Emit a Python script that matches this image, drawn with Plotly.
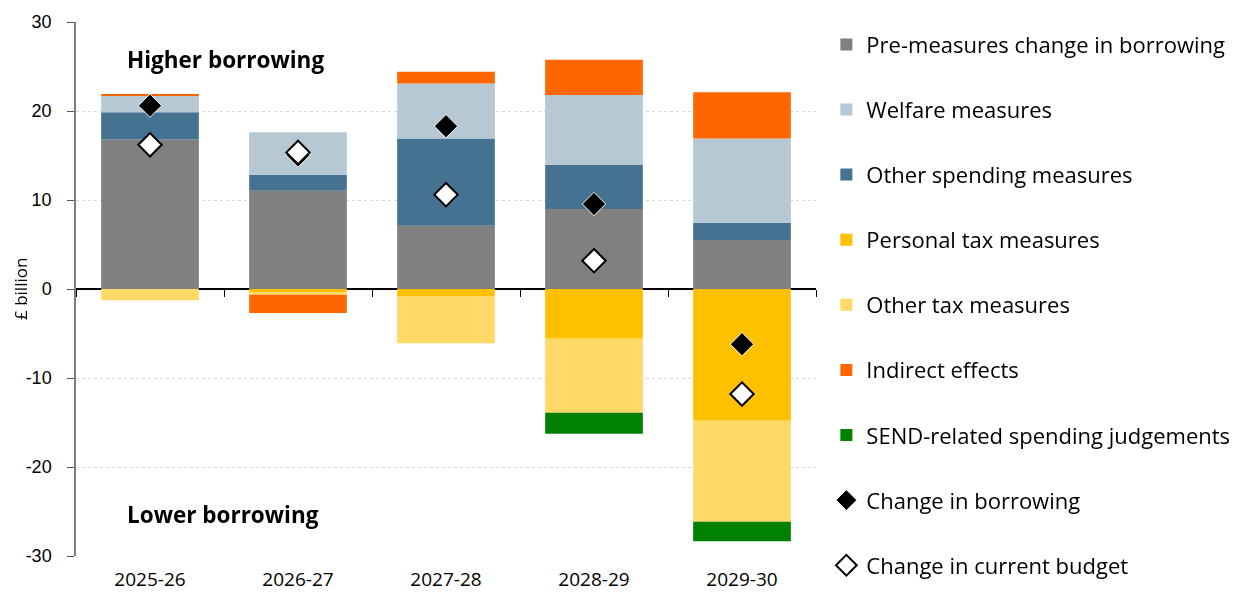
import plotly.graph_objects as go

years = ["2025-26", "2026-27", "2027-28", "2028-29", "2029-30"]

pre_measures = [16.8, 11.05, 7.1, 9.0, 5.5]
other_spending = [3.05, 1.8, 9.8, 4.97, 1.95]
welfare = [1.9, 4.75, 6.2, 7.83, 9.45]
personal_tax = [0.0, -0.4, -0.85, -5.58, -14.8]
other_tax = [-1.25, -0.25, -5.25, -8.32, -11.35]
indirect = [0.1, -2.05, 1.3, 3.95, 5.2]
send = [0.0, 0.0, 0.0, -2.36, -2.2]
change_borrowing = [20.6, 15.0, 18.3, 9.55, -6.2]
change_current_budget = [16.2, 15.35, 10.6, 3.18, -11.8]

y_ticks = [-30, -20, -10, 0, 10, 20, 30]
y_tick_text = ["-30", "-20", "-10", "0", "10", "20", "30"]

# (name, values, colour, legend rank) in stacking order
bar_series = [
    ("Pre-measures change in borrowing", pre_measures, "#808080", 1),
    ("Other spending measures", other_spending, "#467291", 3),
    ("Welfare measures", welfare, "#B6C8D4", 2),
    ("Personal tax measures", personal_tax, "#FFC000", 4),
    ("Other tax measures", other_tax, "#FFD966", 5),
    ("Indirect effects", indirect, "#FF6600", 6),
    ("SEND-related spending judgements", send, "#008000", 7),
]

fig = go.Figure()
for name, vals, col, rank in bar_series:
    fig.add_trace(go.Bar(
        x=years, y=vals, name=name, marker=dict(color=col, line=dict(width=0)),
        width=0.66, legendrank=rank, legendgroup=name,
    ))

fig.add_trace(go.Scatter(
    x=years, y=change_borrowing, mode="markers", name="Change in borrowing",
    marker=dict(symbol="diamond", size=18, color="black", line=dict(color="white", width=1)),
    legendrank=8, legendgroup="cb",
))
fig.add_trace(go.Scatter(
    x=years, y=change_current_budget, mode="markers", name="Change in current budget",
    marker=dict(symbol="diamond", size=18, color="white", line=dict(color="black", width=2)),
    legendrank=9, legendgroup="ccb",
))
# invisible trace to activate the zero-line tick axis
fig.add_trace(go.Scatter(
    x=years, y=change_borrowing, xaxis="x2", mode="markers", opacity=0,
    showlegend=False, hoverinfo="skip",
))

font_main = "Open Sans"

fig.update_layout(
    width=1242, height=584,
    barmode="relative",
    plot_bgcolor="white", paper_bgcolor="white",
    margin=dict(l=68, r=434, t=14, b=36, autoexpand=False),
    font=dict(family=font_main, size=18, color="black"),
    xaxis=dict(
        type="category", categoryarray=years, showline=False, ticks="",
        showgrid=False, tickfont=dict(size=19), ticklabelstandoff=10,
        range=[-0.5, 4.5], automargin=False,
    ),
    xaxis2=dict(
        type="category", categoryarray=years, overlaying="x", anchor="free",
        position=0.5, side="bottom", showline=False, ticks="outside",
        tickson="boundaries", ticklen=7, tickcolor="black", tickwidth=1,
        showticklabels=False, showgrid=False, range=[-0.5, 4.5], automargin=False,
    ),
    yaxis=dict(
        range=[-30, 30], tickvals=y_ticks, ticktext=y_tick_text, showline=True,
        linecolor="#7f7f7f", linewidth=1.5, ticks="outside", ticklen=7,
        tickcolor="#555555",
        showgrid=True, gridcolor="#d9d9d9", griddash="dot", gridwidth=1,
        zeroline=True, zerolinecolor="black", zerolinewidth=1.5,
        tickfont=dict(family="Liberation Sans", size=18),
        ticklabelstandoff=12, automargin=False,
    ),
    legend=dict(
        x=1.014, xanchor="left", y=0.997, yanchor="top",
        font=dict(size=22), tracegroupgap=33.5, traceorder="grouped",
        itemwidth=30, bgcolor="rgba(0,0,0,0)", maxheight=1000,
    ),
    annotations=[
        dict(text="<b>Higher borrowing</b>", xref="paper", yref="paper",
             x=0.066, y=0.929, xanchor="left", yanchor="middle",
             showarrow=False, font=dict(size=22.5)),
        dict(text="<b>Lower borrowing</b>", xref="paper", yref="paper",
             x=0.066, y=0.078, xanchor="left", yanchor="middle",
             showarrow=False, font=dict(size=22.5)),
        dict(text="£ billion", xref="paper", yref="paper",
             x=-0.0757, y=0.5, xanchor="center", yanchor="middle",
             textangle=-90, showarrow=False, font=dict(size=17)),
    ],
)

fig.write_html("out.html")
